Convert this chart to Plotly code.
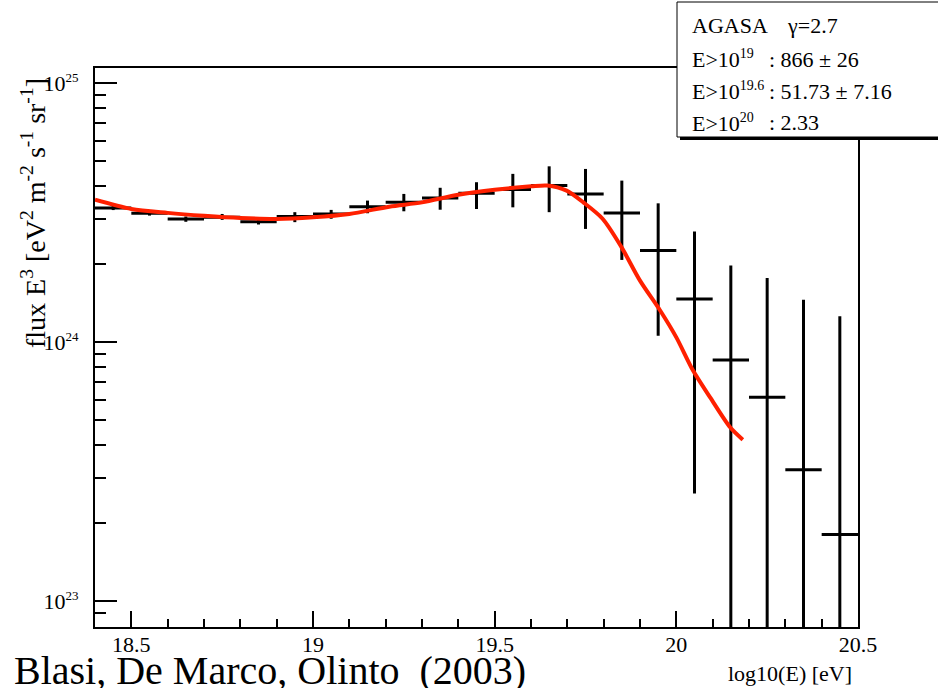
import plotly.graph_objects as go

# ---- data ----
log_e = [18.45, 18.55, 18.65, 18.75, 18.85, 18.95, 19.05, 19.15, 19.25, 19.35,
         19.45, 19.55, 19.65, 19.75, 19.85, 19.95, 20.05, 20.15, 20.25, 20.35, 20.45]
flux = [3.30e24, 3.15e24, 2.99e24, 3.04e24, 2.92e24, 3.06e24, 3.13e24, 3.34e24, 3.47e24, 3.61e24,
        3.76e24, 3.89e24, 4.03e24, 3.74e24, 3.16e24, 2.26e24, 1.47e24, 8.55e23, 6.13e23, 3.22e23, 1.81e23]
flux_hi = [3.37e24, 3.21e24, 3.06e24, 3.13e24, 3.00e24, 3.18e24, 3.245e24, 3.525e24, 3.74e24, 3.95e24,
           4.15e24, 4.47e24, 4.78e24, 4.67e24, 4.21e24, 3.44e24, 2.68e24, 1.98e24, 1.77e24, 1.46e24, 1.26e24]
flux_lo = [3.24e24, 3.085e24, 2.92e24, 2.97e24, 2.85e24, 2.91e24, 3.00e24, 3.15e24, 3.205e24, 3.25e24,
           3.27e24, 3.32e24, 3.18e24, 2.74e24, 2.08e24, 1.06e24, 2.61e23, 0.0, 0.0, 0.0, 0.0]
bin_half_width = 0.05

fit_x = [18.40, 18.50, 18.60, 18.70, 18.80, 18.90, 19.00, 19.10, 19.21, 19.30,
         19.40, 19.50, 19.60, 19.645, 19.698, 19.744, 19.797, 19.849, 19.90, 19.955,
         20.00, 20.046, 20.093, 20.148, 20.183]
fit_y = [3.55e24, 3.27e24, 3.16e24, 3.08e24, 3.02e24, 2.995e24, 3.04e24, 3.13e24, 3.34e24, 3.47e24,
         3.71e24, 3.88e24, 4.00e24, 4.03e24, 3.85e24, 3.47e24, 3.00e24, 2.33e24, 1.73e24, 1.33e24,
         1.045e24, 7.78e23, 6.13e23, 4.70e23, 4.21e23]

x_tick_vals = [18.5, 19, 19.5, 20, 20.5]
x_tick_text = ["18.5", "19", "19.5", "20", "20.5"]
y_tick_vals = [1e23, 1e24, 1e25]
y_tick_text = ["10<sup><span style='font-size:13px'>23</span></sup>",
               "10<sup><span style='font-size:13px'>24</span></sup>",
               "10<sup><span style='font-size:13px'>25</span></sup>"]
y_minor_vals = [m * 10.0 ** d for d in (22, 23, 24) for m in range(2, 10)]

FONT = "Liberation Serif"

# ---- layout geometry (pixels) ----
W, H = 938, 688
L, R, T, B = 95, 858, 68, 627


def px(xp):
    return (xp - L) / (R - L)


def py(yp):
    return (B - yp) / (B - T)


err_plus = [h - v for h, v in zip(flux_hi, flux)]
err_minus = [v - lo for v, lo in zip(flux, flux_lo)]

fig = go.Figure()
fig.add_trace(go.Scatter(
    x=log_e, y=flux, mode="markers",
    marker=dict(size=2, color="black", symbol="square"),
    error_x=dict(type="constant", value=bin_half_width, thickness=3, width=0, color="black"),
    error_y=dict(type="data", array=err_plus, arrayminus=err_minus, symmetric=False,
                 thickness=3, width=0, color="black"),
    showlegend=False, hoverinfo="skip",
))
fig.add_trace(go.Scatter(
    x=fit_x, y=fit_y, mode="lines",
    line=dict(color="#ff2000", width=4, shape="spline", smoothing=0.8),
    showlegend=False, hoverinfo="skip",
))

fig.update_layout(
    width=W, height=H,
    margin=dict(l=L, r=W - R, t=T, b=H - B),
    paper_bgcolor="white", plot_bgcolor="white",
    font=dict(family=FONT, color="black"),
    xaxis=dict(
        range=[18.4, 20.5], showgrid=False, zeroline=False,
        showline=True, linecolor="black", linewidth=2, mirror=True,
        ticks="inside", ticklen=16, tickwidth=1.5, tickcolor="black",
        tickmode="array", tickvals=x_tick_vals, ticktext=x_tick_text,
        tickfont=dict(family=FONT, size=22, color="black"),
        ticklabelstandoff=-3,
        minor=dict(ticks="inside", ticklen=8, tickwidth=1.5, tickcolor="black",
                   tick0=18.4, dtick=0.1, showgrid=False),
    ),
    yaxis=dict(
        type="log", range=[22.901, 25.059], showgrid=False, zeroline=False,
        showline=True, linecolor="black", linewidth=2, mirror=True,
        ticks="inside", ticklen=22, tickwidth=1.5, tickcolor="black",
        tickmode="array", tickvals=y_tick_vals, ticktext=y_tick_text,
        tickfont=dict(family=FONT, size=22, color="black"),
        ticklabelstandoff=10,
        minor=dict(ticks="inside", ticklen=11, tickwidth=1.5, tickcolor="black",
                   tickmode="array", tickvals=y_minor_vals, showgrid=False),
    ),
)

# stats box (with ROOT-style shadow)
fig.add_shape(type="rect", xref="paper", yref="paper",
              x0=px(680), x1=px(965), y0=py(140), y1=py(5),
              fillcolor="black", line=dict(width=0), layer="above")
fig.add_shape(type="rect", xref="paper", yref="paper",
              x0=px(677), x1=px(962), y0=py(137), y1=py(2),
              fillcolor="white", line=dict(color="black", width=1), layer="above")

box_left = ["AGASA",
            "E&gt;10<sup><span style='font-size:14px'>19</span></sup>",
            "E&gt;10<sup><span style='font-size:14px'>19.6</span></sup>",
            "E&gt;10<sup><span style='font-size:14px'>20</span></sup>"]
box_right = ["\u03b3=2.7", ": 866 \u00b1 26", ": 51.73 \u00b1 7.16", ": 2.33"]
box_right_x = [785, 767, 767, 767]
box_rows_y = [26, 59, 91, 123]
for lt, rt, rx, yy in zip(box_left, box_right, box_right_x, box_rows_y):
    fig.add_annotation(text=lt, xref="paper", yref="paper", x=px(690), y=py(yy),
                       xanchor="left", yanchor="middle", showarrow=False,
                       font=dict(family=FONT, size=22, color="black"))
    fig.add_annotation(text=rt, xref="paper", yref="paper", x=px(rx), y=py(yy),
                       xanchor="left", yanchor="middle", showarrow=False,
                       font=dict(family=FONT, size=22, color="black"))

# axis titles
fig.add_annotation(text="flux E<sup>3</sup> [eV<sup>2</sup> m<sup>-2</sup> s<sup>-1</sup> sr<sup>-1</sup>]",
                   xref="paper", yref="paper", x=px(33), y=py(213), textangle=-90,
                   xanchor="center", yanchor="middle", showarrow=False,
                   font=dict(family=FONT, size=28, color="black"))
fig.add_annotation(text="log10(E) [eV]", xref="paper", yref="paper", x=px(854), y=py(673),
                   xanchor="right", yanchor="middle", showarrow=False,
                   font=dict(family=FONT, size=22, color="black"))
fig.add_annotation(text="Blasi, De Marco, Olinto \u00a0(2003)", xref="paper", yref="paper",
                   x=px(12), y=py(670), xanchor="left", yanchor="middle", showarrow=False,
                   font=dict(family=FONT, size=40, color="black"))

fig.write_html("out.html", config={"displayModeBar": False},
               post_script="document.body.style.margin='0';document.body.style.padding='0';")
